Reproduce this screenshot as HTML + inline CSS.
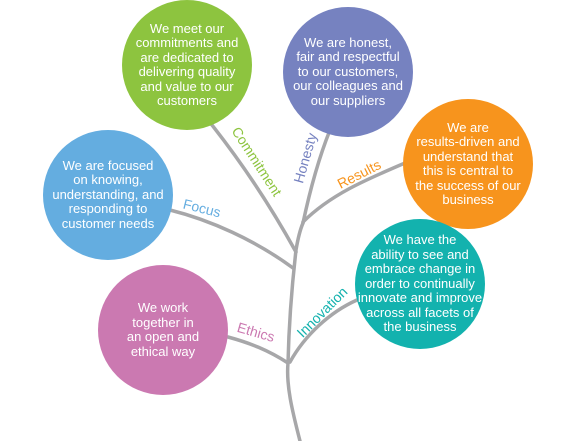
<!DOCTYPE html>
<html><head><style>
html,body{margin:0;padding:0;background:#fff;}
body{width:576px;height:441px;overflow:hidden;position:relative;font-family:"Liberation Sans",sans-serif;}
.c{position:absolute;border-radius:50%;display:flex;align-items:center;justify-content:center;text-align:center;color:#fff;font-size:13px;line-height:14.5px;}
.l{position:absolute;font-size:14px;white-space:nowrap;transform-origin:center center;}
</style></head><body>
<svg width="576" height="441" style="position:absolute;left:0;top:0" fill="none" stroke="#a7a7a9" stroke-width="3.5" stroke-linecap="round">
<path d="M300,441 C292,410 286,385 288,363 C289,320 292,285 296,250 C298,238 300,230 303,223"/>
<path d="M303,223 C310,190 318,160 330,130"/>
<path d="M303,222 C330,195 365,180 405,163"/>
<path d="M296,252 C270,205 240,160 208,120"/>
<path d="M293,268 C255,240 210,220 170,210"/>
<path d="M288,363 C268,350 250,343 228,337"/>
<path d="M290,362 C305,335 330,312 357,300"/>
</svg>
<div class="c" style="left:122px;top:0px;width:130px;height:130px;background:#8dc43f">We meet our<br>commitments and<br>are dedicated to<br>delivering quality<br>and value to our<br>customers</div>
<div class="c" style="left:283px;top:7px;width:130px;height:130px;background:#7682c0">We are honest,<br>fair and respectful<br>to our customers,<br>our colleagues and<br>our suppliers</div>
<div class="c" style="left:403px;top:99px;width:130px;height:130px;background:#f7941d">We are<br>results-driven and<br>understand that<br>this is central to<br>the success of our<br>business</div>
<div class="c" style="left:43px;top:130px;width:130px;height:130px;background:#64ade0">We are focused<br>on knowing,<br>understanding, and<br>responding to<br>customer needs</div>
<div class="c" style="left:355px;top:219px;width:130px;height:130px;background:#13b2ae">We have the<br>ability to see and<br>embrace change in<br>order to continually<br>innovate and improve<br>across all facets of<br>the business</div>
<div class="c" style="left:98px;top:265px;width:130px;height:130px;background:#cb79b1">We work<br>together in<br>an open and<br>ethical way</div>
<div class="l" style="left:218px;top:152px;width:76px;text-align:center;color:#8dc43f;transform:rotate(57deg)">Commitment</div>
<div class="l" style="left:278px;top:150px;width:54px;text-align:center;color:#7682c0;transform:rotate(-74deg)">Honesty</div>
<div class="l" style="left:332px;top:166px;width:54px;text-align:center;color:#f7941d;transform:rotate(-27deg)">Results</div>
<div class="l" style="left:178px;top:200px;width:48px;text-align:center;color:#64ade0;transform:rotate(14deg)">Focus</div>
<div class="l" style="left:232px;top:324px;width:48px;text-align:center;color:#cb79b1;transform:rotate(16deg)">Ethics</div>
<div class="l" style="left:287px;top:304px;width:70px;text-align:center;color:#13b2ae;transform:rotate(-45deg)">Innovation</div>
</body></html>
